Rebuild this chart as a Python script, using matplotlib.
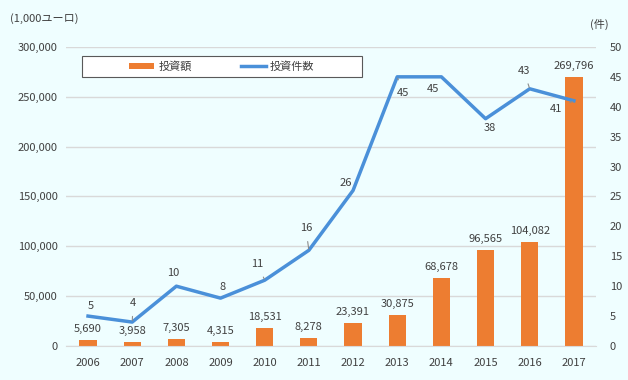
import numpy as np
import matplotlib.pyplot as plt
from matplotlib.patches import Rectangle

plt.rcParams['font.family'] = ['Noto Sans CJK JP', 'DejaVu Sans']

years = ['2006', '2007', '2008', '2009', '2010', '2011',
         '2012', '2013', '2014', '2015', '2016', '2017']
amount = [5690, 3958, 7305, 4315, 18531, 8278,
          23391, 30875, 68678, 96565, 104082, 269796]
count = [5, 4, 10, 8, 11, 16, 26, 45, 45, 38, 43, 41]

# label offsets for the line (pixels), and whether a leader line is drawn
cnt_off = [(3, 10), (1, 19), (-3, 13), (2, 11), (-7, 16), (-3, 22),
           (-7, 7), (6, -16), (-8, -12), (4, -9), (-6, 18), (-18, -8)]
leader = [False, True, False, False, True, True,
          False, True, False, False, True, True]

bg = '#EFFEFF'
txt = '#404040'
orange = '#ED7D31'
blue = '#4A90D9'

fig = plt.figure(figsize=(6.28, 3.8), dpi=100, facecolor=bg)
ax = fig.add_axes([0.105, 0.0895, 0.844, 0.787], facecolor=bg)
ax2 = ax.twinx()

x = np.arange(len(years))
bars = ax.bar(x, amount, width=0.39, color=orange, zorder=2, label='投資額')
ax.set_xlim(-0.5, 11.5)
ax.set_ylim(0, 300000)
ax.set_yticks(np.arange(0, 300001, 50000))
ax.set_yticklabels([f'{v:,}' for v in range(0, 300001, 50000)])
ax.set_xticks(x)
ax.set_xticklabels(years)
ax.grid(axis='y', color='#D9D9D9', lw=1, zorder=0)
ax.set_axisbelow(True)
for s in ax.spines.values():
    s.set_visible(False)
for s in ax2.spines.values():
    s.set_visible(False)
ax.spines['bottom'].set_visible(True)
ax.spines['bottom'].set_color('#D9D9D9')
ax.tick_params(length=0, labelsize=8, colors=txt, pad=6)
ax.tick_params(axis='x', pad=9)

for xi, v in zip(x, amount):
    ax.annotate(f'{v:,}', (xi, v), xytext=(0, 6), textcoords='offset pixels',
                ha='center', va='bottom', fontsize=8, color=txt)

line, = ax2.plot(x, count, color=blue, lw=2.5, zorder=3, label='投資件数')
ax2.set_ylim(0, 50)
ax2.set_yticks(np.arange(0, 51, 5))
ax2.tick_params(length=0, labelsize=8, colors=txt, pad=10)

for xi, v, off, ld in zip(x, count, cnt_off, leader):
    props = dict(arrowstyle='-', color='#8C8C8C', lw=0.8, shrinkA=4, shrinkB=1) if ld else None
    ax2.annotate(str(v), (xi, v), xytext=off, textcoords='offset pixels',
                 ha='center', va='center', fontsize=8, color=txt,
                 arrowprops=props)

# legend box drawn by hand, legend entries centred inside it
box = Rectangle((0.030, 0.900), 0.528, 0.070, transform=ax.transAxes,
                facecolor='white', edgecolor='#595959', lw=0.8, zorder=4)
ax.add_patch(box)
leg = ax.legend([bars, line], ['投資額', '投資件数'], loc='center',
                bbox_to_anchor=(0.294, 0.935), ncol=2, frameon=False,
                fontsize=8, handlelength=2.3, handleheight=0.45,
                columnspacing=4.4, handletextpad=0.35)
for t in leg.get_texts():
    t.set_color(txt)
leg.set_zorder(5)

fig.text(0.016, 0.95, '(1,000ユーロ)', fontsize=8, color=txt, va='center')
fig.text(0.939, 0.937, '(件)', fontsize=8, color=txt, va='center')

fig.savefig('out.png', dpi=100, facecolor=bg)
